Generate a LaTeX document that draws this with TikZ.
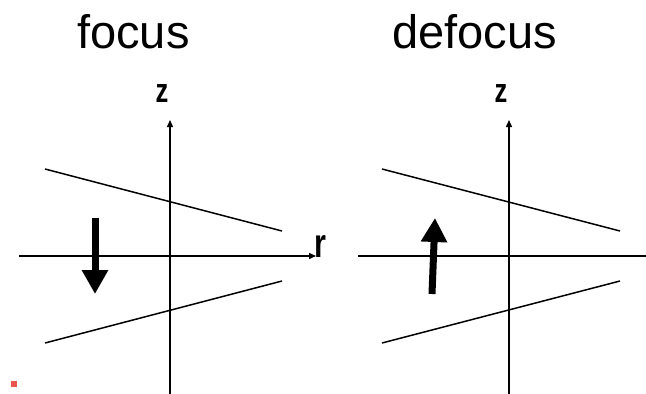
\documentclass[tikz,border=0pt]{standalone}
\usepackage{fontspec}
\setmainfont{Liberation Sans}
\usetikzlibrary{arrows.meta}
\tikzset{
  title/.style={font=\fontsize{47}{50}\selectfont, inner sep=0pt, anchor=base west},
  axislbl/.style={font=\fontsize{34}{36}\selectfont\bfseries, inner sep=0pt},
  axisline/.style={line width=1.4pt, -{Triangle[length=7pt,width=6pt]}},
  plainaxis/.style={line width=1.4pt},
  ray/.style={line width=1.5pt},
  bigarrow/.style={line width=7pt, -{Triangle[length=24pt,width=25pt]}},
}
\begin{document}
\begin{tikzpicture}[x=1pt,y=-1pt]
\useasboundingbox (0,0) rectangle (646,394);
% titles
\node[title] (tfocus) at (77,48) {focus};
\node[title] (tdefocus) at (392,48) {defocus};
% ---------------- left panel
\coordinate (Lzb) at (170,394);
\coordinate (Lzt) at (170,120);
\coordinate (Lrl) at (19,256);
\coordinate (Lrr) at (316,256);
\draw[axisline] (Lzb) -- (Lzt);
\draw[axisline] (Lrl) -- (Lrr);
\node[axislbl] (Lz) at (162,94) {\scalebox{0.75}[1]{z}};
\node[axislbl, anchor=base] (Lr) at (320,257) {\scalebox{0.9}[1.2]{r}};
\coordinate (Lu1) at (45,169);
\coordinate (Lu2) at (282,231);
\coordinate (Ll1) at (45,343);
\coordinate (Ll2) at (282,281);
\draw[ray] (Lu1) -- (Lu2);
\draw[ray] (Ll1) -- (Ll2);
\coordinate (La1) at (95,218);
\coordinate (La2) at (95,294);
\draw[bigarrow] (La1) -- (La2);
% ---------------- right panel
\coordinate (Rzb) at (509,394);
\coordinate (Rzt) at (509,120);
\coordinate (Rrl) at (358,256);
\coordinate (Rrr) at (646,256);
\draw[axisline] (Rzb) -- (Rzt);
\draw[plainaxis] (Rrl) -- (Rrr);
\node[axislbl] (Rz) at (501,94) {\scalebox{0.75}[1]{z}};
\coordinate (Ru1) at (382,169);
\coordinate (Ru2) at (620,231);
\coordinate (Rl1) at (382,343);
\coordinate (Rl2) at (620,281);
\draw[ray] (Ru1) -- (Ru2);
\draw[ray] (Rl1) -- (Rl2);
\coordinate (Ra1) at (432,294);
\coordinate (Ra2) at (435,218);
\draw[bigarrow] (Ra1) -- (Ra2);
% bullet
\definecolor{bulletred}{HTML}{E8554E}
\node[fill=bulletred, minimum size=6pt, inner sep=0pt] (bullet) at (14,384) {};
\end{tikzpicture}
\end{document}
